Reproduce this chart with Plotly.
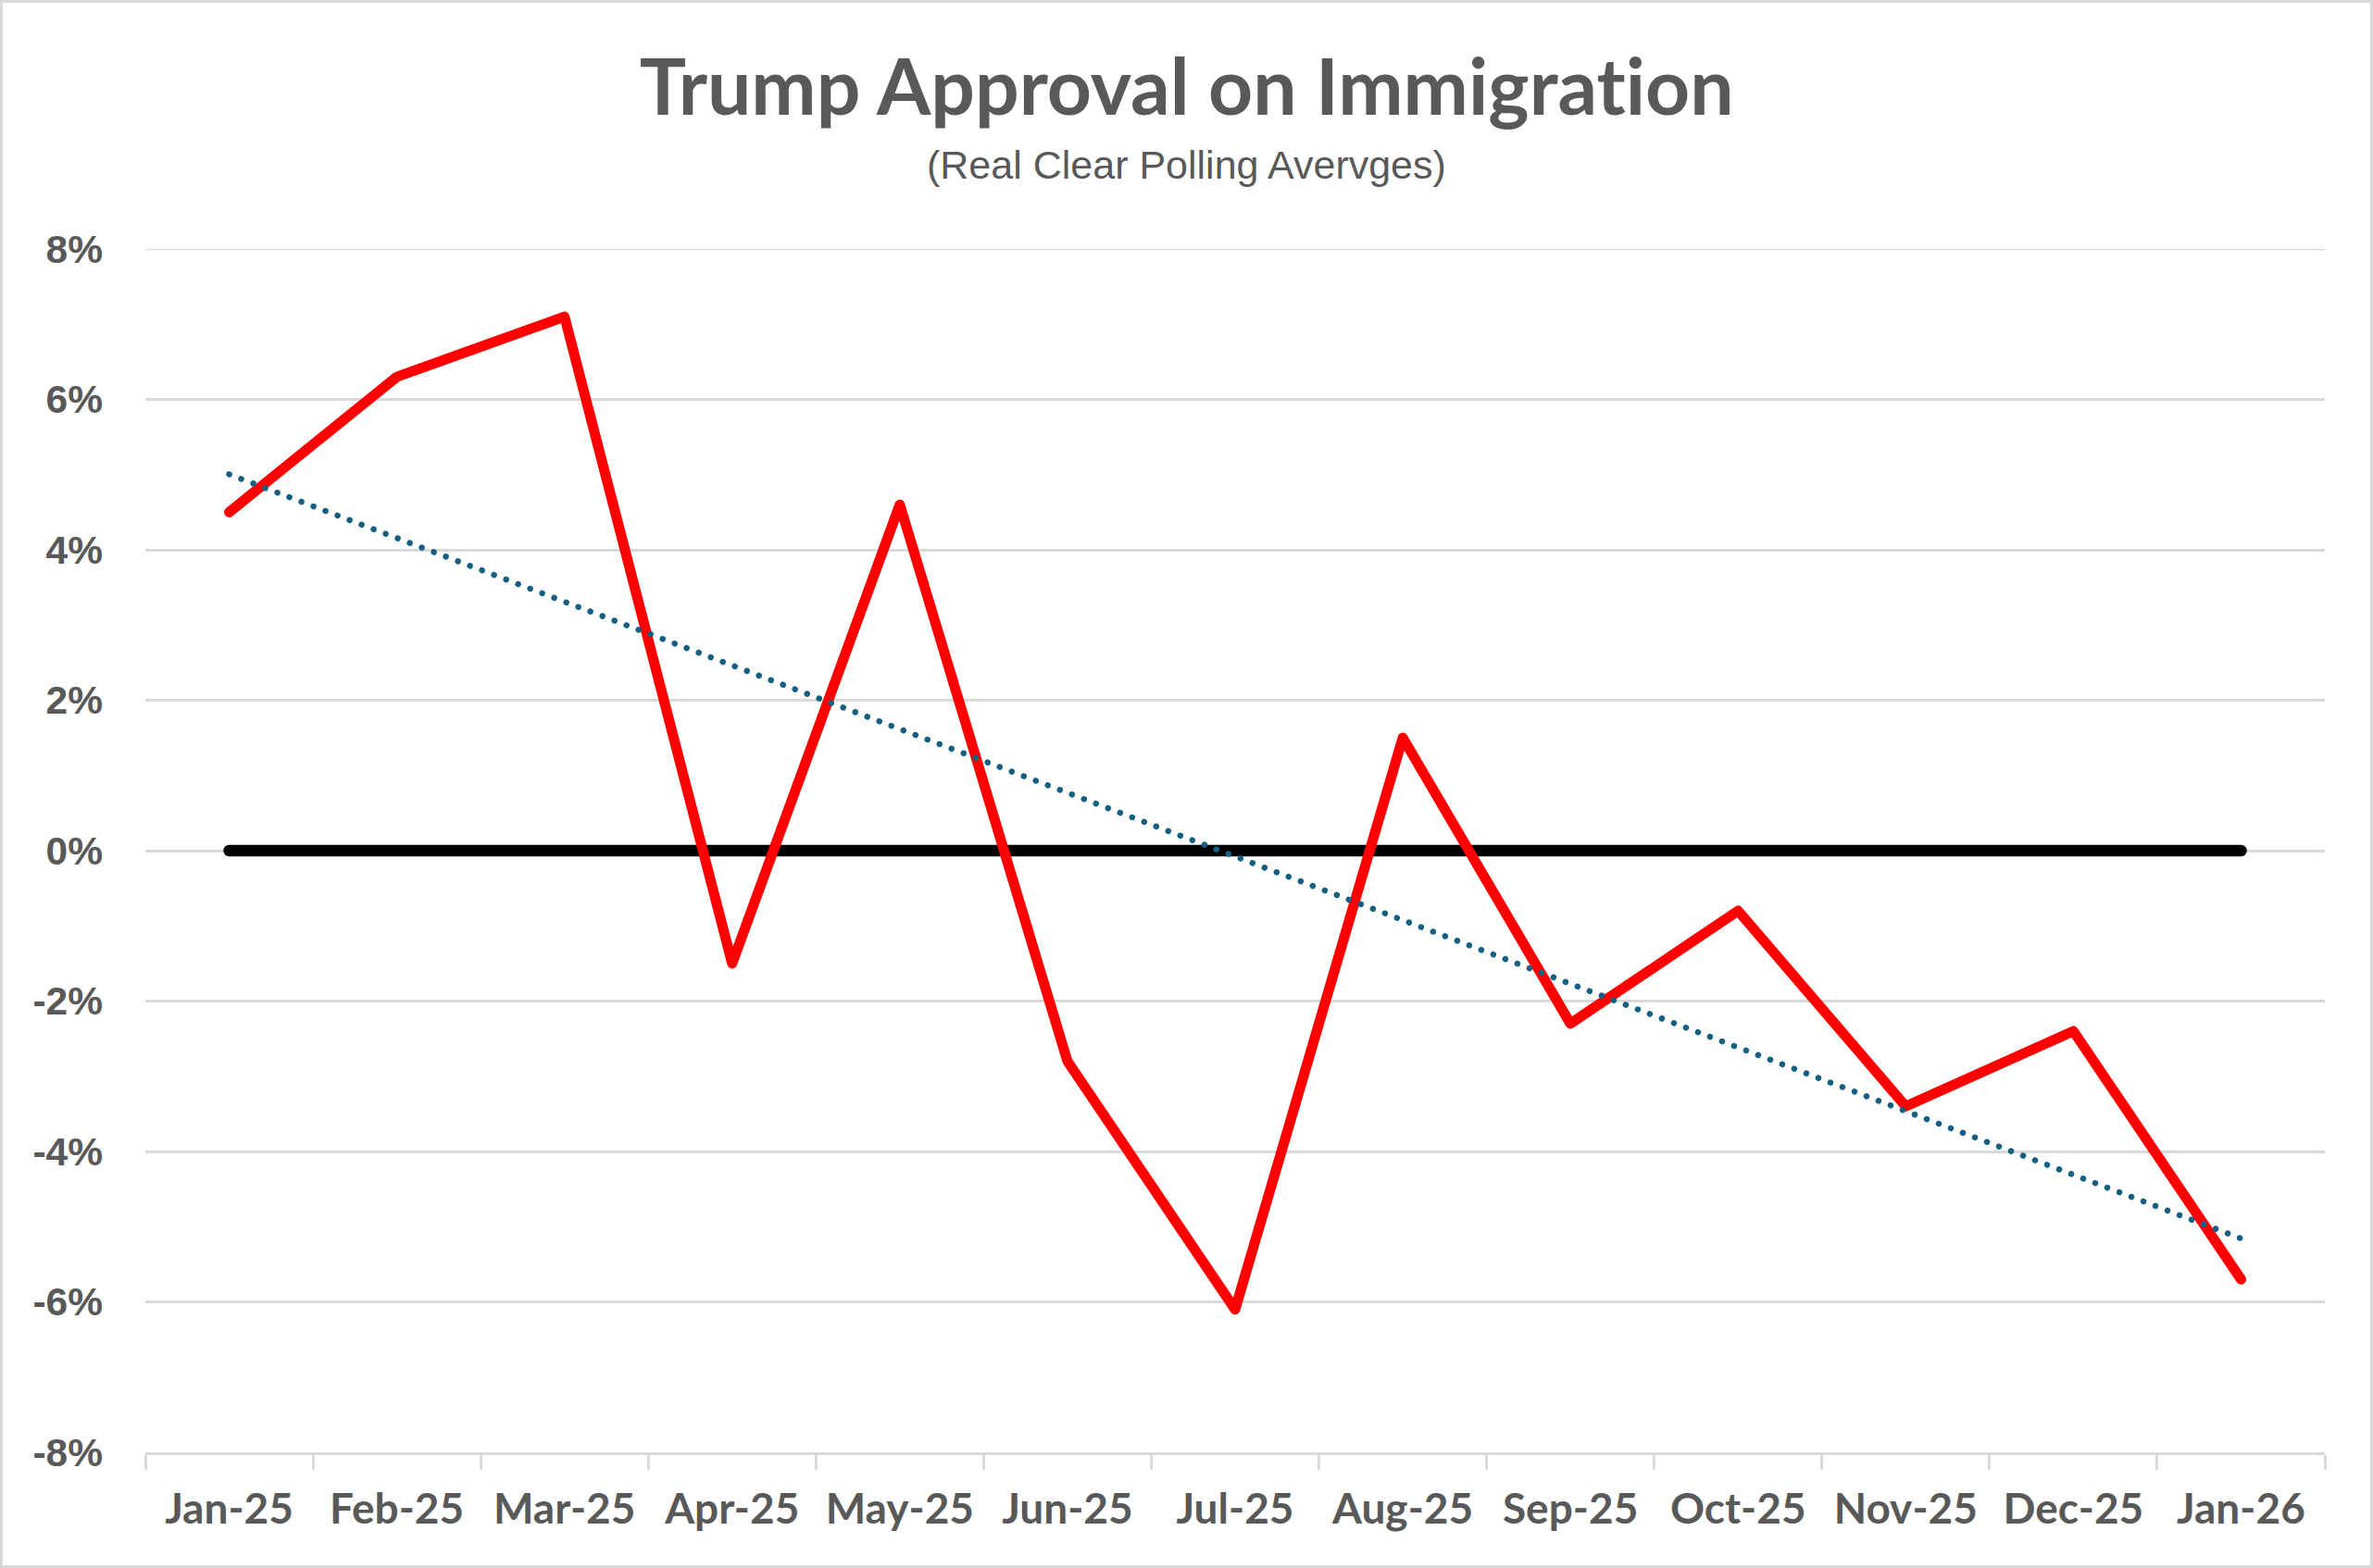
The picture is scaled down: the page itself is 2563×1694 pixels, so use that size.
import numpy as np
import plotly.graph_objects as go

# ---- data ----
months = ["Jan-25", "Feb-25", "Mar-25", "Apr-25", "May-25", "Jun-25", "Jul-25",
          "Aug-25", "Sep-25", "Oct-25", "Nov-25", "Dec-25", "Jan-26"]
approval = [4.5, 6.3, 7.1, -1.5, 4.6, -2.8, -6.1, 1.5, -2.3, -0.8, -3.4, -2.4, -5.7]
zero_ref = [0] * len(months)
y_tick_vals = [-8, -6, -4, -2, 0, 2, 4, 6, 8]
y_tick_text = ["-8%", "-6%", "-4%", "-2%", "0%", "2%", "4%", "6%", "8%"]

title_text = "Trump Approval on Immigration"
subtitle_text = "(Real Clear Polling Avervges)"

# linear trendline (least squares fit, like Excel's linear trendline)
idx = np.arange(1, len(approval) + 1)
slope, intercept = np.polyfit(idx, approval, 1)
trend = list(slope * idx + intercept)

W, H = 2563, 1694
ml, mr, mt, mb = 157, 52, 269, 125
pw, ph = W - ml - mr, H - mt - mb

TEXT = "#595959"
GRID = "#D9D9D9"

fig = go.Figure()
fig.add_trace(go.Scatter(x=months, y=zero_ref, mode="lines",
                         line=dict(color="#000000", width=12.5), hoverinfo="skip"))
fig.add_trace(go.Scatter(x=months, y=approval, mode="lines",
                         line=dict(color="#FF0000", width=11)))
fig.add_trace(go.Scatter(x=months, y=trend, mode="lines",
                         line=dict(color="#156082", width=6.5, dash="6.5px,7.4px"),
                         hoverinfo="skip"))

def py(pix):
    return (H - mb - pix) / ph

xc = (W / 2 - ml) / pw
fig.add_annotation(text=title_text, x=xc, xref="paper",
                   y=py(91), yref="paper", showarrow=False, yanchor="middle",
                   xanchor="center",
                   font=dict(family="Lato", size=84, color=TEXT, weight="bold"))
fig.add_annotation(text=subtitle_text, x=xc, xref="paper",
                   y=py(178), yref="paper", showarrow=False, yanchor="middle",
                   xanchor="center",
                   font=dict(family="Liberation Sans", size=43, color=TEXT))

# outer border
fig.add_shape(type="rect", xref="paper", yref="paper",
              x0=(1.5 - ml) / pw, x1=1 + (mr - 1.5) / pw,
              y0=-(mb - 1.5) / ph, y1=1 + (mt - 1.5) / ph,
              line=dict(color=GRID, width=3), fillcolor="rgba(0,0,0,0)", layer="below")
# top gridline (plotly drops the grid line at the range edge)
fig.add_shape(type="line", xref="paper", yref="y", x0=0, x1=1,
              y0=y_tick_vals[-1], y1=y_tick_vals[-1],
              line=dict(color=GRID, width=2.5), layer="below")

fig.update_layout(
    width=W, height=H,
    margin=dict(l=ml, r=mr, t=mt, b=mb, pad=0),
    paper_bgcolor="white", plot_bgcolor="white",
    showlegend=False,
    xaxis=dict(type="category", range=[-0.5, len(months) - 0.5],
               showgrid=False, zeroline=False,
               showline=True, linecolor=GRID, linewidth=3,
               ticks="outside", tickson="boundaries", ticklen=16,
               tickcolor=GRID, tickwidth=2.5,
               tickfont=dict(family="Lato", size=46, color=TEXT, weight="bold"),
               ticklabelstandoff=19),
    yaxis=dict(range=[-8, 8], tickvals=y_tick_vals, ticktext=y_tick_text,
               showgrid=True, gridcolor=GRID, gridwidth=2.5,
               zeroline=False, showline=False, ticks="",
               tickfont=dict(family="Liberation Sans", size=42.5, color=TEXT, weight="bold"),
               ticklabelstandoff=45),
)

post = """
document.body.style.margin='0';
document.body.style.overflow='hidden';
document.querySelectorAll('text').forEach(function(t){
  t.style.fontVariantLigatures = 'none';
  t.style.fontFeatureSettings = '"liga" 0, "clig" 0';
});
var paths = document.querySelectorAll('.scatterlayer .trace path.js-line');
paths.forEach(function(p, i){
  p.style.strokeLinecap = 'round';
  p.style.strokeLinejoin = 'round';
  if (i === 2) { p.style.strokeDasharray = '0.01px,13.9px'; }
});
"""
fig.write_html("out.html", post_script=post, config={"displayModeBar": False})
